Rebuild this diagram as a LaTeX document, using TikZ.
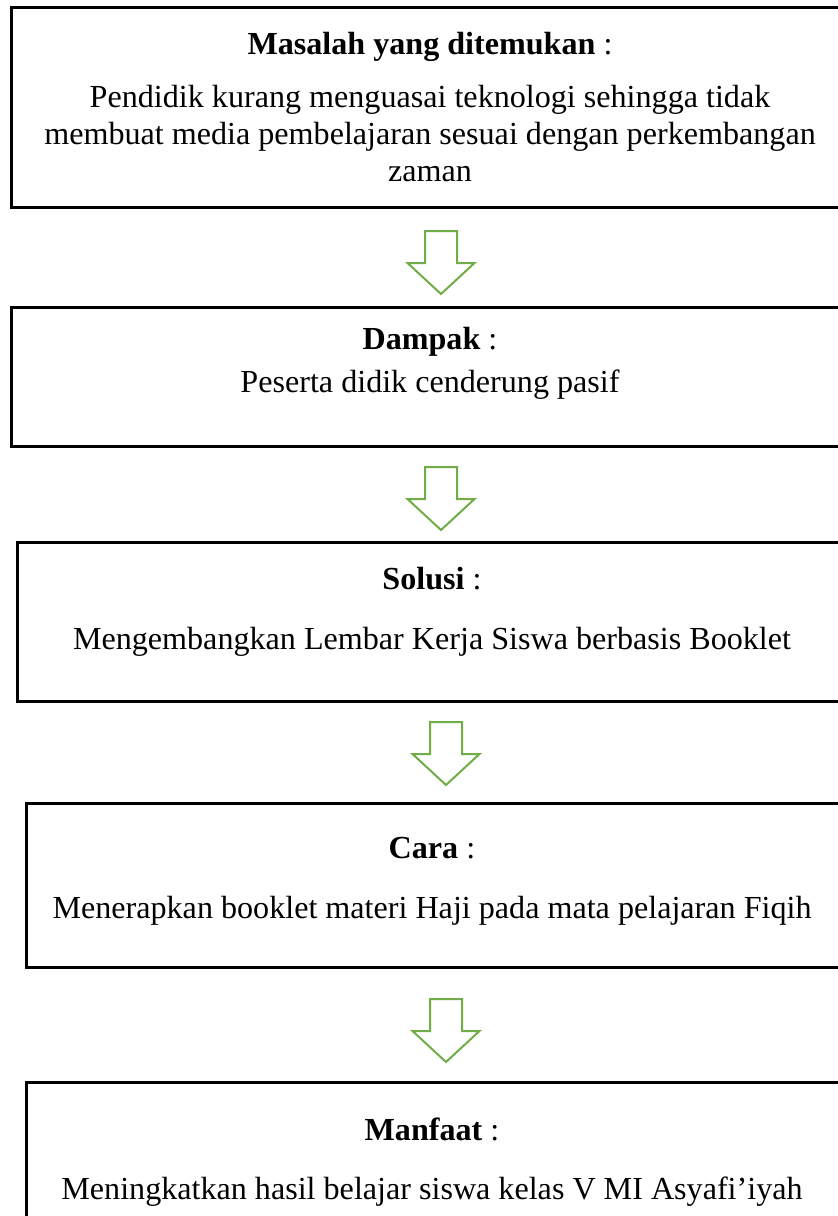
\documentclass[tikz,border=0pt]{standalone}
\usepackage{fontspec}
\setmainfont{Liberation Serif}
\usetikzlibrary{calc}
\definecolor{arrowgreen}{RGB}{112,173,71}

\begin{document}
\begin{tikzpicture}[x=0.014cm, y=-0.014cm,
panel/.style={rectangle,draw,line width=1.2pt},
caption/.style={align=center,inner sep=0pt,anchor=north,font=\fontsize{12.8}{14.7}\selectfont},
hollowarrow/.style={draw=arrowgreen,fill=white,line width=0.8pt,line join=miter},
]
\useasboundingbox (0,0) rectangle (838,1216);
\clip (0,0) rectangle (838,1216);

%% boxes
\node[panel, minimum width=11.746cm, minimum height=2.814cm] (b1) at (430.5,107.5) {};
\node[panel, minimum width=11.746cm, minimum height=1.96cm] (b2) at (430.5,377) {};
\node[panel, minimum width=11.662cm, minimum height=2.24cm] (b3) at (433.5,622) {};
\node[panel, minimum width=11.536cm, minimum height=2.31cm] (b4) at (438,885.5) {};
\node[panel, minimum width=11.536cm, minimum height=2.072cm] (b5) at (438,1156) {};

%% texts
\node[caption] (t1) at (430,32) {\textbf{Masalah yang ditemukan} :\\[6.3pt]
Pendidik kurang menguasai teknologi sehingga tidak\\
membuat media pembelajaran sesuai dengan perkembangan\\
zaman};
\node[caption] (t2) at (430,327) {\textbf{Dampak} :\\[2.4pt]
Peserta didik cenderung pasif};
\node[caption] (t3) at (432,567) {\textbf{Solusi} :\\[9pt]
Mengembangkan Lembar Kerja Siswa berbasis Booklet};
\node[caption] (t4) at (432,837) {\textbf{Cara} :\\[9pt]
Menerapkan booklet materi Haji pada mata pelajaran Fiqih};
\node[caption] (t5) at (432,1117) {\textbf{Manfaat} :\\[9pt]
Meningkatkan hasil belajar siswa kelas V MI Asyafi’iyah};

%% arrows
\coordinate (a1) at (441,231);
\coordinate (a2) at (441,467);
\coordinate (a3) at (446,722);
\coordinate (a4) at (446,999);
\foreach \a in {a1,a2,a3,a4}
  \draw[hollowarrow] (\a) ++(-16,0) -- ++(32,0) -- ++(0,32) -- ++(17.5,0)
    -- ++(-33.5,31) -- ++(-33.5,-31) -- ++(17.5,0) -- cycle;
\end{tikzpicture}
\end{document}
